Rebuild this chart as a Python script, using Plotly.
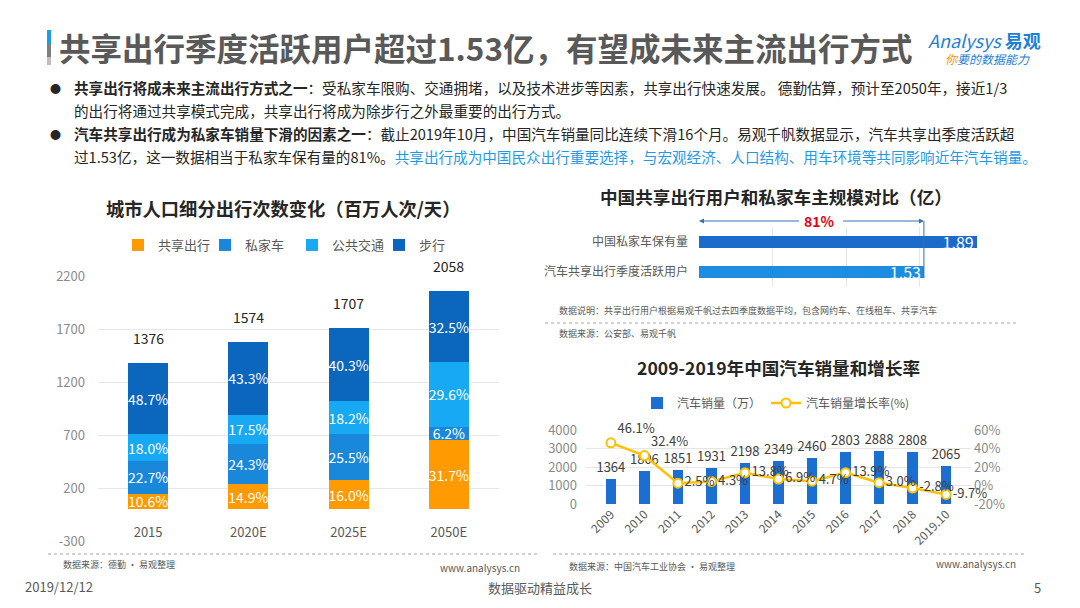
import plotly.graph_objects as go

# ****************************************************************************
# 00 - Datos
# ****************************************************************************

# 城市人口细分出行次数变化（百万人次/天）
anios_ciudad = ["2015", "2020E", "2025E", "2050E"]
total_viajes = [1376, 1574, 1707, 2058]
pct_compartido = [10.6, 14.9, 16.0, 31.7]
pct_privado = [22.7, 24.3, 25.5, 6.2]
pct_publico = [18.0, 17.5, 18.2, 29.6]
pct_caminar = [48.7, 43.3, 40.3, 32.5]
nombres_series = ["共享出行", "私家车", "公共交通", "步行"]
ticks_ciudad = [-300, 200, 700, 1200, 1700, 2200]

# 中国共享出行用户和私家车主规模对比（亿）
categorias_usuarios = ["汽车共享出行季度活跃用户", "中国私家车保有量"]
valores_usuarios = [1.53, 1.89]
texto_ratio = "81%"

# 2009-2019年中国汽车销量和增长率
anios_ventas = ["2009", "2010", "2011", "2012", "2013", "2014", "2015",
                "2016", "2017", "2018", "2019.10"]
ventas_autos = [1364, 1806, 1851, 1931, 2198, 2349, 2460, 2803, 2888, 2808, 2065]
crecimiento = [46.1, 32.4, 2.5, 4.3, 13.8, 6.9, 4.7, 13.9, 3.0, -2.8, -9.7]
ticks_crecimiento = [-20, 0, 20, 40, 60]

# ****************************************************************************
# 01 - Estilo
# ****************************************************************************
# la página deja 8px de margen al cuerpo: se dibuja la figura 8px más chica
OFF = 8
W, H = 1080 - OFF, 608 - OFF
FUENTE = "Noto Sans CJK SC, Microsoft YaHei, sans-serif"
GRIS = "#595959"
GRIS_EJE = "#8C8C8C"
GRID = "#E6E6E6"

colores_series = ["#FF9A00", "#1A88DA", "#18A9F5", "#0B67BD"]


def px_x(x):
    return (x - OFF) / W


def px_y(y):
    return 1 - (y - OFF) / H


fig = go.Figure()

# ****************************************************************************
# 02 - Barras apiladas (izquierda)
# ****************************************************************************
for nombre, pct, color in zip(nombres_series,
                              [pct_compartido, pct_privado, pct_publico, pct_caminar],
                              colores_series):
    fig.add_trace(go.Bar(
        x=anios_ciudad,
        y=[t * p / 100 for t, p in zip(total_viajes, pct)],
        text=[f"{p:.1f}%" for p in pct],
        name=nombre,
        marker=dict(color=color, line=dict(width=0)),
        textposition="inside",
        insidetextanchor="middle",
        textangle=0,
        constraintext="none",
        textfont=dict(color="white", size=14, family=FUENTE),
        width=0.4,
        xaxis="x", yaxis="y",
        legend="legend",
    ))

# ****************************************************************************
# 03 - Barras horizontales (derecha arriba)
# ****************************************************************************
fig.add_trace(go.Bar(
    y=categorias_usuarios,
    x=valores_usuarios,
    orientation="h",
    marker=dict(color=["#1C8DE0", "#1B6BCB"], line=dict(width=0)),
    text=[f"{v:.2f}" for v in valores_usuarios],
    textposition="inside",
    insidetextanchor="end",
    textangle=0,
    constraintext="none",
    cliponaxis=False,
    textfont=dict(color="white", size=16, family=FUENTE),
    width=0.43,
    xaxis="x2", yaxis="y2",
    showlegend=False,
))

# ****************************************************************************
# 04 - Ventas y crecimiento (derecha abajo)
# ****************************************************************************
fig.add_trace(go.Bar(
    x=anios_ventas,
    y=ventas_autos,
    name="汽车销量（万）",
    marker=dict(color="#1B6FD0", line=dict(width=0)),
    text=[str(v) for v in ventas_autos],
    textposition="outside",
    constraintext="none",
    cliponaxis=False,
    textfont=dict(color="#404040", size=13, family=FUENTE),
    width=0.31,
    xaxis="x3", yaxis="y3",
    legend="legend2",
))

posiciones = ["top right", "top right"] + ["middle right"] * (len(crecimiento) - 2)
fig.add_trace(go.Scatter(
    x=anios_ventas,
    y=crecimiento,
    name="汽车销量增长率(%)",
    mode="lines+markers+text",
    line=dict(color="#FFC000", width=2.5),
    marker=dict(symbol="circle", size=9, color="white",
                line=dict(color="#FFC000", width=2)),
    text=[f"{v:.1f}%" for v in crecimiento],
    textposition=posiciones,
    textfont=dict(color="#404040", size=13, family=FUENTE),
    cliponaxis=False,
    xaxis="x3", yaxis="y4",
    legend="legend2",
))

# ****************************************************************************
# 05 - Ejes
# ****************************************************************************
fig.update_layout(
    width=W, height=H,
    margin=dict(l=0, r=0, t=0, b=0, autoexpand=False),
    paper_bgcolor="white",
    plot_bgcolor="rgba(0,0,0,0)",
    barmode="stack",
    font=dict(family=FUENTE, color=GRIS),
    xaxis=dict(
        type="category", automargin=False, range=[-0.5, 3.5], autorange=False,
        domain=[px_x(98), px_x(499)], anchor="free", position=px_y(509),
        showline=False, ticks="", showgrid=False,
        tickfont=dict(size=13, color=GRIS), ticklabelstandoff=14,
    ),
    yaxis=dict(
        automargin=False,
        domain=[px_y(541), px_y(276)], anchor="x", range=[-300, 2200],
        tickvals=ticks_ciudad, ticktext=[str(v) for v in ticks_ciudad],
        showgrid=True, gridcolor=GRID, zeroline=False,
        tickfont=dict(size=13, color=GRIS_EJE), ticklabelstandoff=12,
    ),
    xaxis2=dict(
        automargin=False,
        domain=[px_x(699), px_x(993)], anchor="y2", range=[0, 2], dtick=0.5,
        showgrid=True, gridcolor=GRID, zeroline=False, showticklabels=False,
    ),
    yaxis2=dict(
        type="category", automargin=False, range=[-0.5, 1.5], autorange=False,
        domain=[px_y(287), px_y(227)], anchor="x2", showgrid=False,
        tickfont=dict(size=12, color=GRIS), ticklabelstandoff=10,
    ),
    xaxis3=dict(
        type="category", automargin=False,
        domain=[px_x(586), px_x(971)], anchor="y3", tickangle=-45,
        showgrid=False, tickfont=dict(size=12, color=GRIS),
    ),
    yaxis3=dict(
        automargin=False,
        domain=[px_y(504), px_y(430)], anchor="x3", range=[0, 4000], dtick=1000,
        showgrid=True, gridcolor=GRID, zeroline=False,
        tickfont=dict(size=13, color=GRIS_EJE), ticklabelstandoff=8,
    ),
    yaxis4=dict(
        automargin=False,
        overlaying="y3", anchor="x3", side="right", range=[-20, 60],
        tickvals=ticks_crecimiento, ticktext=[f"{v}%" for v in ticks_crecimiento],
        showgrid=False, zeroline=False,
        tickfont=dict(size=13, color=GRIS_EJE), ticklabelstandoff=2,
    ),
    legend=dict(
        orientation="h", x=px_x(118), xanchor="left", y=px_y(245), yanchor="middle",
        font=dict(size=13, color=GRIS), bgcolor="rgba(0,0,0,0)", itemwidth=30,
        entrywidth=42, traceorder="normal",
    ),
    legend2=dict(
        orientation="h", x=px_x(776), xanchor="center", y=px_y(403), yanchor="middle",
        font=dict(size=12, color=GRIS), bgcolor="rgba(0,0,0,0)",
        traceorder="normal",
    ),
)

# ****************************************************************************
# 06 - Textos
# ****************************************************************************
anotaciones = []


def texto(x, y, s, size, color=GRIS, xanchor="left"):
    anotaciones.append(dict(
        x=px_x(x), y=px_y(y), xref="paper", yref="paper", text=s,
        showarrow=False, xanchor=xanchor, yanchor="middle",
        font=dict(size=size, color=color, family=FUENTE),
    ))


AZUL_TXT = "#1E9BE8"
texto(57, 47, "<b>共享出行季度活跃用户超过1.53亿，有望成未来主流出行方式</b>", 31.5, GRIS)
texto(926, 40, "<i>Analysys</i> <b>易观</b>", 18, "#1E7FD6")
texto(943, 59, "<i><span style='color:#F39800'>你</span>要的数据能力</i>", 12, "#1E7FD6")

texto(55, 88, "●", 11, "#262626", "center")
texto(55, 134, "●", 11, "#262626", "center")
texto(72, 88, "<b>共享出行将成未来主流出行方式之一</b>：受私家车限购、交通拥堵，以及技术进步等因素，"
              "共享出行快速发展。 德勤估算，预计至2050年，接近1/3", 14.6, "#262626")
texto(72, 110, "的出行将通过共享模式完成，共享出行将成为除步行之外最重要的出行方式。", 14.6, "#262626")
texto(72, 134, "<b>汽车共享出行成为私家车销量下滑的因素之一</b>：截止2019年10月，中国汽车销量同比连续下滑16个月。"
               "易观千帆数据显示，汽车共享出季度活跃超", 14.6, "#262626")
texto(72, 157, "过1.53亿，这一数据相当于私家车保有量的81%。"
               f"<span style='color:{AZUL_TXT}'>共享出行成为中国民众出行重要选择，"
               "与宏观经济、人口结构、用车环境等共同影响近年汽车销量。</span>", 14.6, "#262626")

texto(283, 208, "<b>城市人口细分出行次数变化（百万人次/天）</b>", 18.3, "#262626", "center")
texto(776, 197, "<b>中国共享出行用户和私家车主规模对比（亿）</b>", 17.6, "#262626", "center")
texto(778, 367, "<b>2009-2019年中国汽车销量和增长率</b>", 17.6, "#262626", "center")

texto(557, 310, "数据说明：共享出行用户根据易观千帆过去四季度数据平均，包含网约车、在线租车、共享汽车", 9, "#595959")
texto(557, 333, "数据来源：公安部、易观千帆", 9, "#595959")
texto(61, 564, "数据来源：德勤 · 易观整理", 9, "#595959")
texto(522, 567, "www.analysys.cn", 10, "#595959", "right")
texto(567, 566, "数据来源：中国汽车工业协会 · 易观整理", 9, "#595959")
texto(1018, 563, "www.analysys.cn", 10, "#595959", "right")

texto(23, 586, "2019/12/12", 13, GRIS)
texto(540, 587, "数据驱动精益成长", 13, GRIS, "center")
texto(1037, 587, "5", 13, GRIS, "center")

# totales sobre las barras apiladas
for i, total in enumerate(total_viajes):
    anotaciones.append(dict(
        x=i, y=total, xref="x", yref="y", text=str(total), showarrow=False,
        yshift=25, font=dict(size=14, color="#262626", family=FUENTE),
    ))

# flechas del 81%
AZUL_FLECHA = "#2E75B6"
y_flecha = px_y(221)
anotaciones.append(dict(
    x=0, y=y_flecha, ax=0.69, ay=0, xref="x2", yref="paper", axref="x2", ayref="pixel",
    text="", showarrow=True, arrowhead=2, arrowsize=1, arrowwidth=1, arrowcolor=AZUL_FLECHA,
))
anotaciones.append(dict(
    x=valores_usuarios[0], y=y_flecha, ax=0.97, ay=0, xref="x2", yref="paper",
    axref="x2", ayref="pixel", text="", showarrow=True, arrowhead=2, arrowsize=1,
    arrowwidth=1, arrowcolor=AZUL_FLECHA,
))
anotaciones.append(dict(
    x=0.823, y=y_flecha, xref="x2", yref="paper", text=f"<b>{texto_ratio}</b>",
    showarrow=False, yanchor="middle",
    font=dict(size=14, color="#E60012", family=FUENTE),
))

fig.update_layout(annotations=anotaciones)

# ****************************************************************************
# 07 - Formas (barra del título, separadores, línea vertical)
# ****************************************************************************
formas = [
    dict(type="rect", xref="paper", yref="paper", x0=px_x(47), x1=px_x(51),
         y0=px_y(44), y1=px_y(30), fillcolor="#1E9BE8", line=dict(width=0)),
    dict(type="rect", xref="paper", yref="paper", x0=px_x(47), x1=px_x(51),
         y0=px_y(57), y1=px_y(44), fillcolor="#7F7F7F", line=dict(width=0)),
    dict(type="rect", xref="paper", yref="paper", x0=px_x(47), x1=px_x(51),
         y0=px_y(65), y1=px_y(57), fillcolor="#BFBFBF", line=dict(width=0)),
    dict(type="line", xref="paper", yref="paper", x0=px_x(48), x1=px_x(540),
         y0=px_y(554), y1=px_y(554), line=dict(color="#A6A6A6", width=1, dash="dot")),
    dict(type="line", xref="paper", yref="paper", x0=px_x(553), x1=px_x(1027),
         y0=px_y(554), y1=px_y(554), line=dict(color="#A6A6A6", width=1, dash="dot")),
    dict(type="line", xref="paper", yref="paper", x0=px_x(545), x1=px_x(1017),
         y0=px_y(323), y1=px_y(323), line=dict(color="#A6A6A6", width=1, dash="dot")),
    dict(type="line", xref="x2", yref="paper", x0=valores_usuarios[0], x1=valores_usuarios[0],
         y0=y_flecha, y1=px_y(278), line=dict(color=AZUL_FLECHA, width=1)),
]
fig.update_layout(shapes=formas)

fig.write_html("out.html")
